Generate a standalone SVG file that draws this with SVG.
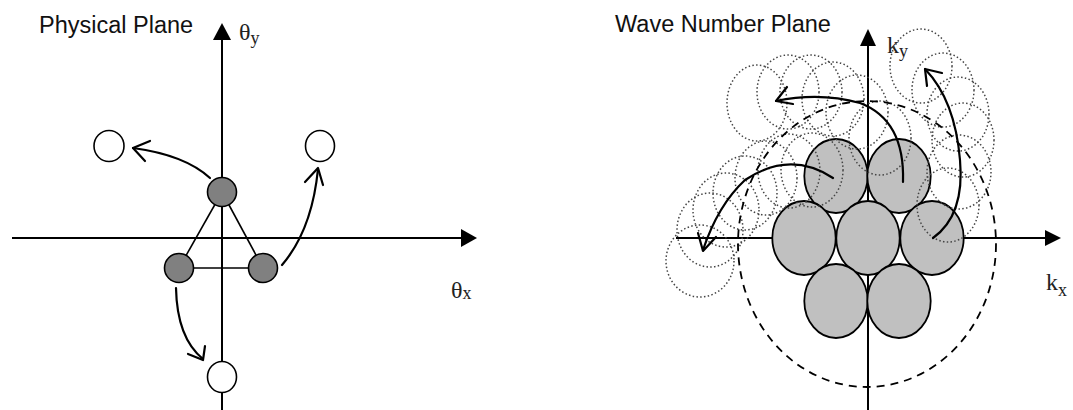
<svg xmlns="http://www.w3.org/2000/svg" width="1073" height="410" viewBox="0 0 1073 410">
<style>
.title{font-family:"Liberation Sans","Open Sans",sans-serif;font-size:23.5px;fill:#111}
.lbl{font-family:"Liberation Serif",serif;font-size:24px;fill:#222}
.sub{font-size:18px}
.axis{stroke:#000;stroke-width:2;fill:none}
.head{fill:#000}
.dark{fill:#808080;stroke:#000;stroke-width:1.6}
.open{fill:#fff;stroke:#000;stroke-width:1.6}
.link{stroke:#000;stroke-width:1.6;fill:none}
.arc{stroke:#000;stroke-width:2.2;fill:none;stroke-linecap:round;stroke-linejoin:round}
.light{fill:#c0c0c0;stroke:#000;stroke-width:1.8}
.dot{fill:none;stroke:#444;stroke-width:1.5;stroke-dasharray:1.5 2.3}
.dash{fill:none;stroke:#000;stroke-width:1.8;stroke-dasharray:8 6}
</style>
<rect width="1073" height="410" fill="#fff"/>

<!-- Left panel -->
<text class="title" x="39" y="33">Physical Plane</text>
<g id="left-axes">
<line class="axis" x1="222" y1="38" x2="222" y2="410"/>
<polygon class="head" points="222,23 213,40 231,40"/>
<line class="axis" x1="12" y1="238" x2="463" y2="238"/>
<polygon class="head" points="477,238 461,229 461,247"/>
<text class="lbl" x="239" y="40">θ<tspan class="sub" dy="4">y</tspan></text>
<text class="lbl" x="451" y="298">θ<tspan class="sub" dy="1">x</tspan></text>
</g>
<g id="left-links">
<line class="link" x1="222" y1="192" x2="179" y2="268"/>
<line class="link" x1="222" y1="192" x2="263" y2="268"/>
<line class="link" x1="179" y1="268" x2="263" y2="268"/>
</g>
<g id="p-top"><circle class="dark" cx="222" cy="192" r="14.5"/></g>
<g id="p-left"><circle class="dark" cx="179" cy="268" r="14.5"/></g>
<g id="p-right"><circle class="dark" cx="263" cy="268" r="14.5"/></g>
<g id="o-left"><ellipse class="open" cx="109" cy="146" rx="15" ry="15.5"/></g>
<g id="o-right"><ellipse class="open" cx="320" cy="146" rx="14.5" ry="15.5"/></g>
<g id="o-bottom"><ellipse class="open" cx="222" cy="377" rx="14.5" ry="15.5"/></g>
<g id="left-connectors">
<path class="arc" d="M210,178 Q185,155 133,148"/>
<path class="arc" d="M150,141 L133,148 L145,161"/>
<path class="arc" d="M282,265 Q312,230 318,169"/>
<path class="arc" d="M305,182 L318,168 L323,185"/>
<path class="arc" d="M176,288 Q177,338 203,359"/>
<path class="arc" d="M188,354 L203,360 L205,346"/>
</g>

<!-- Right panel -->
<text class="title" x="615" y="32">Wave Number Plane</text>
<g id="right-axes">
<line class="axis" x1="868" y1="44" x2="868" y2="410"/>
<polygon class="head" points="868,29 860,46 876,46"/>
<line class="axis" x1="676" y1="238" x2="1046" y2="238"/>
<polygon class="head" points="1061,238 1045,230 1045,246"/>
<text class="lbl" x="887" y="53">k<tspan class="sub" dy="4">y</tspan></text>
<text class="lbl" x="1046" y="290">k<tspan class="sub" dy="6">x</tspan></text>
</g>
<g id="beams">
<ellipse class="light" cx="836" cy="176" rx="31.7" ry="37"/>
<ellipse class="light" cx="899" cy="176" rx="31.7" ry="37"/>
<ellipse class="light" cx="804" cy="238" rx="31.7" ry="37"/>
<ellipse class="light" cx="868" cy="238" rx="31.7" ry="37"/>
<ellipse class="light" cx="932" cy="238" rx="31.7" ry="37"/>
<ellipse class="light" cx="836" cy="301" rx="31.7" ry="37"/>
<ellipse class="light" cx="899" cy="301" rx="31.7" ry="37"/>
</g>
<g id="ghosts">
<ellipse class="dot" cx="812" cy="170" rx="31" ry="37"/>
<ellipse class="dot" cx="789" cy="171" rx="31" ry="37"/>
<ellipse class="dot" cx="766" cy="178" rx="31" ry="37"/>
<ellipse class="dot" cx="745" cy="193" rx="32" ry="37"/>
<ellipse class="dot" cx="726" cy="210" rx="33" ry="37"/>
<ellipse class="dot" cx="710" cy="230" rx="33" ry="37"/>
<ellipse class="dot" cx="700" cy="261" rx="34" ry="36"/>
<ellipse class="dot" cx="880" cy="138" rx="31" ry="37"/>
<ellipse class="dot" cx="857" cy="112" rx="31" ry="37"/>
<ellipse class="dot" cx="833" cy="99" rx="31" ry="37"/>
<ellipse class="dot" cx="811" cy="92" rx="31" ry="37"/>
<ellipse class="dot" cx="788" cy="92" rx="31" ry="37"/>
<ellipse class="dot" cx="757" cy="103" rx="30" ry="38"/>
<ellipse class="dot" cx="948" cy="205" rx="31" ry="37"/>
<ellipse class="dot" cx="959" cy="172" rx="32" ry="37"/>
<ellipse class="dot" cx="963" cy="140" rx="31" ry="37"/>
<ellipse class="dot" cx="958" cy="114" rx="31" ry="37"/>
<ellipse class="dot" cx="943" cy="90" rx="31" ry="37"/>
<ellipse class="dot" cx="921" cy="66" rx="31" ry="37"/>
</g>
<g id="scan-limit"><ellipse class="dash" cx="867" cy="244" rx="129" ry="143"/></g>
<g id="right-connectors">
<path class="arc" d="M833,178 Q790,150 745,180 Q718,205 703,250"/>
<path class="arc" d="M698,233 L703,251 L716,237"/>
<path class="arc" d="M903,182 Q905,120 860,103 Q820,92 776,101"/>
<path class="arc" d="M787,87 L776,101 L793,104"/>
<path class="arc" d="M933,238 Q965,215 960,160 Q955,100 925,69"/>
<path class="arc" d="M927,86 L925,69 L942,73"/>
</g>
</svg>
